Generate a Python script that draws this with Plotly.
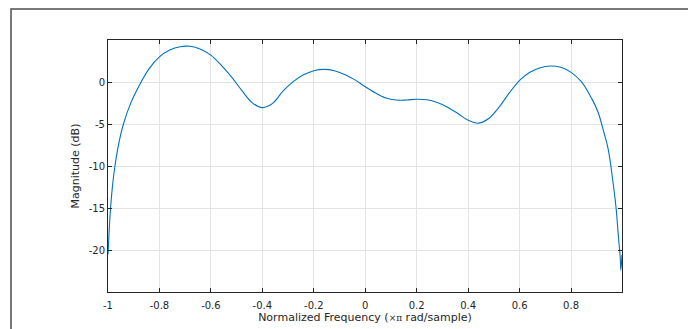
import plotly.graph_objects as go

# Normalized frequency (x pi rad/sample) and magnitude (dB)
freq = [-1.0, -0.996, -0.99, -0.982, -0.973, -0.96, -0.94, -0.91, -0.88,
        -0.84, -0.80, -0.76, -0.72, -0.68, -0.64, -0.60, -0.56, -0.52, -0.48,
        -0.44, -0.40, -0.36, -0.32, -0.28, -0.24, -0.20, -0.16, -0.12, -0.08,
        -0.04, 0.0, 0.04, 0.08, 0.12, 0.16, 0.20, 0.24, 0.28, 0.32,
        0.36, 0.40, 0.44, 0.48, 0.52, 0.56, 0.60, 0.64, 0.68, 0.72,
        0.76, 0.80, 0.84, 0.88, 0.905, 0.925, 0.945, 0.962, 0.975,
        0.984, 0.991, 0.9935, 0.998]
mag_db = [-20.5, -18.0, -15.0, -12.2, -10.0, -7.6, -5.0, -2.4, -0.5,
          1.6, 3.0, 3.8, 4.2, 4.25, 3.9, 3.2, 2.0, 0.6, -1.0,
          -2.45, -3.05, -2.55, -1.1, 0.04, 0.85, 1.35, 1.5, 1.35, 0.9,
          0.25, -0.56, -1.3, -1.9, -2.15, -2.15, -2.05, -2.12, -2.45, -3.0,
          -3.75, -4.55, -4.9, -4.35, -3.0, -1.3, 0.2, 1.15, 1.7, 1.9,
          1.75, 1.15, 0.05, -1.95, -3.6, -5.7, -8.1, -11.7, -15.0,
          -18.4, -20.8, -22.4, -20.6]

x_ticks = [-1, -0.8, -0.6, -0.4, -0.2, 0, 0.2, 0.4, 0.6, 0.8]
x_ticklabels = ["-1", "-0.8", "-0.6", "-0.4", "-0.2", "0", "0.2", "0.4", "0.6", "0.8"]
y_ticks = [-20, -15, -10, -5, 0]
y_ticklabels = ["-20", "-15", "-10", "-5", "0"]

axis_col = "#262626"
fig = go.Figure()
fig.add_trace(go.Scatter(x=freq, y=mag_db, mode="lines",
                         line=dict(color="#0072BD", width=1.1, shape="spline", smoothing=1.0),
                         showlegend=False, hoverinfo="x+y"))

common = dict(showline=True, linecolor=axis_col, linewidth=1, mirror="ticks",
              ticks="inside", ticklen=4, tickcolor=axis_col, tickwidth=1,
              showgrid=True, gridcolor="#e3e3e3", gridwidth=1, zeroline=False,
              tickfont=dict(family="DejaVu Sans", size=10, color=axis_col))

fig.update_xaxes(range=[-1, 0.998], tickvals=x_ticks, ticktext=x_ticklabels,
                 ticklabelstandoff=4,
                 title=dict(text="Normalized Frequency (<span style='font-family:DejaVu Serif;font-size:9px'>×π</span> rad/sample)",
                            font=dict(family="DejaVu Sans", size=11, color=axis_col), standoff=3),
                 **common)
fig.update_yaxes(range=[-25, 5], tickvals=y_ticks, ticktext=y_ticklabels,
                 title=dict(text="Magnitude (dB)",
                            font=dict(family="DejaVu Sans", size=11, color=axis_col), standoff=6),
                 **common)

# outer figure frame
fig.add_shape(type="rect", xref="paper", yref="paper",
              x0=-0.1887, x1=1.6, y0=-0.6, y1=1.123,
              line=dict(color="#4d4d4d", width=1.5), fillcolor="rgba(0,0,0,0)", layer="below")

fig.update_layout(width=696, height=329,
                  margin=dict(l=100, r=82, t=32, b=45),
                  paper_bgcolor="white", plot_bgcolor="white")

fig.write_html("out.html")
